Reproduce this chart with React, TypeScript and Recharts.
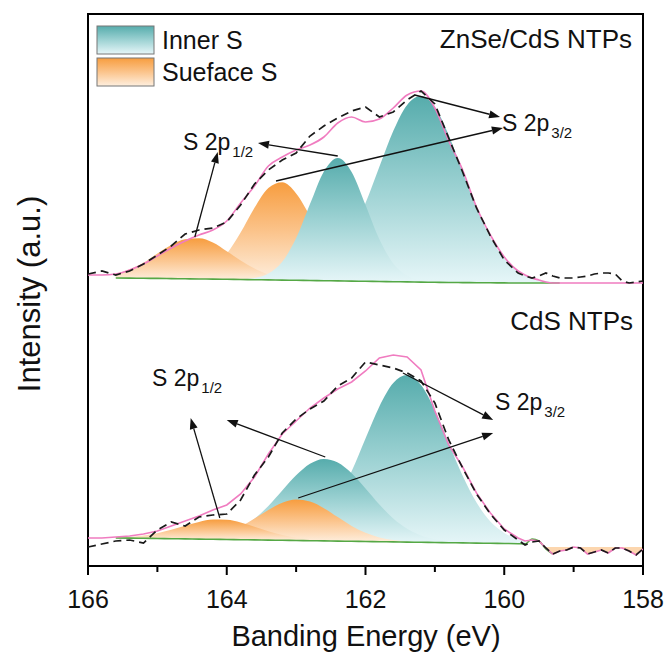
import React from 'react';
import { ComposedChart, Area, Line, XAxis, YAxis, ReferenceLine, ReferenceArea } from 'recharts';

// binding energy grid (eV), finer at the noisy low-energy end
const energy = [166.0, 165.8, 165.6, 165.4, 165.2, 165.0, 164.8, 164.6, 164.4, 164.2, 164.0, 163.8, 163.6, 163.4, 163.2, 163.0, 162.8, 162.6, 162.4, 162.2, 162.0, 161.8, 161.6, 161.4, 161.2, 161.0, 160.8, 160.6, 160.4, 160.2, 160.0, 159.8, 159.7, 159.6, 159.5, 159.4, 159.3, 159.2, 159.1, 159.0, 158.9, 158.8, 158.7, 158.6, 158.5, 158.4, 158.3, 158.2, 158.1, 158.0];

// ZnSe/CdS NTPs (upper trace, offset)
const topRaw = [292, 295, 291, 295, 302, 311, 320, 332, 336, 338, 344, 361, 382, 396, 406, 413, 430, 440, 448, 455, 459, 449, 454, 466, 475, 462, 428, 394, 358, 330, 306, 293, 290, 288, 290, 293, 290, 288, 288, 288, 289, 290, 292, 293, 293, 292, 285, 283, 284, 285];
const topFit = [291, 291, 292, 296, 302, 310, 318, 325, 331, 336, 345, 363, 380, 400, 409, 416, 421, 429, 443, 449, 444, 447, 458, 471, 475, 458, 425, 396, 359, 331, 309, 295, 291, 288, 286, 284, 283, 283, 283, 283, 283, 283, 283, 283, 283, 283, 283, 283, 283, 283];
const topBaseFrom = 165.6;
const topBase = [288.0, 287.9, 287.7, 287.6, 287.4, 287.2, 287.0, 286.9, 286.7, 286.5, 286.3, 286.1, 285.9, 285.7, 285.5, 285.3, 285.1, 284.9, 284.7, 284.5, 284.3, 284.1, 283.9, 283.7, 283.5, 283.4, 283.3, 283.2, 283.1, 283.0, 283.0, 283.0, 283.0, 283.0, 283.0, 283.0];
const topSurf12From = 165.6;
const topSurf12 = [4.3, 8.9, 15.5, 24.9, 33.6, 39.6, 40.7, 36.5, 28.0, 19.1, 11.2, 5.5, 2.7, 1.1, 0.4];
const topSurf32From = 164.8;
const topSurf32 = [0.4, 1.4, 4.4, 11.7, 25.6, 47.0, 71.9, 91.8, 97.8, 86.9, 64.5, 39.9, 20.6, 8.9, 3.2, 1.0, 0.3];
const topInner12From = 163.8;
const topInner12 = [0.4, 1.7, 6.3, 18.3, 42.2, 76.4, 109.2, 123, 109.2, 76.4, 42.2, 18.3, 6.3, 1.7, 0.4];
const topInner32From = 163.4;
const topInner32 = [0.2, 0.8, 2.2, 5.6, 12.7, 26.0, 47.7, 78.2, 114.7, 150.6, 176.9, 186, 175.0, 147.3, 110.9, 74.8, 45.1, 24.3, 11.8, 7.8, 5.1, 3.2, 2.0, 1.2, 0.7];

// CdS NTPs (lower trace)
const botRaw = [19, 22, 25, 26, 23, 36, 44, 40, 49, 51, 52, 66, 91, 109, 133, 147, 157, 165, 180, 188, 204, 201, 198, 193, 185, 163, 126, 98, 72, 52, 36, 26, 21, 24, 25, 18, 12, 15, 16, 19, 18, 12, 14, 16, 13, 18, 18, 15, 11, 17];
const botFit = [28, 28, 29, 30, 32, 35, 40, 45, 50, 56, 61, 72, 89, 112, 132, 145, 158, 168, 177, 184, 195, 208, 211, 209, 196, 155, 121, 99, 73, 53, 37, 28, 25, 26, 25, 18, 12, 15, 16, 19, 18, 12, 14, 16, 13, 18, 18, 15, 11, 17];
const botBaseFrom = 165.6;
const botBase = [28.0, 27.9, 27.7, 27.5, 27.3, 27.1, 26.9, 26.7, 26.5, 26.3, 26.1, 25.9, 25.7, 25.5, 25.3, 25.1, 24.9, 24.7, 24.5, 24.3, 24.1, 23.9, 23.7, 23.5, 23.3, 23.1, 22.9, 22.7, 22.5, 22.3, 22.1, 27, 25, 17, 12];
const botSurf12From = 165.6;
const botSurf12 = [0.5, 1.2, 2.7, 5.2, 8.9, 13.2, 17.2, 19.7, 19.7, 17.2, 13.2, 8.9, 5.2, 2.7, 1.2, 0.5];
const botSurf32From = 164.8;
const botSurf32 = [0.2, 0.5, 1.4, 3.4, 7.1, 13.1, 21.3, 30.2, 37.6, 41.0, 39.1, 32.7, 24.0, 15.4, 8.7, 4.3, 1.8, 0.7, 0.2];
const botInner12From = 164.6;
const botInner12 = [0.4, 1.1, 2.7, 6.0, 11.8, 21.2, 34.2, 49.8, 65.2, 77.0, 82, 78.6, 68.0, 53.0, 37.2, 23.5, 13.4, 6.9, 3.2, 1.3, 0.5];
const botInner32From = 163.4;
const botInner32 = [0.7, 2.0, 5.0, 11.4, 23.4, 42.8, 70.1, 103.0, 135.3, 158.8, 167, 157.2, 132.3, 99.5, 67.1, 40.5, 21.8, 10.6, 4.6, 2.9];
const botTailFrom = 159.4;
const botTailLevel = 19;

const majorTicks = [166, 164, 162, 160, 158];
const allTicks = [166, 165, 164, 163, 162, 161, 160, 159, 158];

// arrow annotations: [fromEnergy, fromY, toEnergy, toY]
const arrows = [
  [164.46, 329, 164.13, 414],
  [162.4, 410, 163.55, 423],
  [161.29, 471, 160.06, 449],
  [163.29, 385, 160.02, 438],
  [164.1, 48, 164.52, 148],
  [162.58, 109, 164.0, 146],
  [161.46, 193, 160.16, 146],
  [162.97, 68, 160.16, 133],
];

const idx = (e: number) => energy.findIndex(v => Math.abs(v - e) < 1e-6);
const at = (from: number, vals: number[], i: number) => {
  const k = i - idx(from);
  return k >= 0 && k < vals.length ? vals[k] : null;
};
const range = (base: number | null, peak: number | null) =>
  base == null || peak == null ? null : [base, +(base + peak).toFixed(2)];

const data = energy.map((e, i) => {
  const tb = at(topBaseFrom, topBase, i);
  const bb = at(botBaseFrom, botBase, i);
  return {
    e,
    tRaw: topRaw[i],
    tFit: topFit[i],
    tBase: tb,
    tS12: range(tb, at(topSurf12From, topSurf12, i)),
    tS32: range(tb, at(topSurf32From, topSurf32, i)),
    tI12: range(tb, at(topInner12From, topInner12, i)),
    tI32: range(tb, at(topInner32From, topInner32, i)),
    bRaw: botRaw[i],
    bFit: botFit[i],
    bBase: bb,
    bS12: range(bb, at(botSurf12From, botSurf12, i)),
    bS32: range(bb, at(botSurf32From, botSurf32, i)),
    bI12: range(bb, at(botInner12From, botInner12, i)),
    bI32: range(bb, at(botInner32From, botInner32, i)),
    bTail: i >= idx(botTailFrom) ? [Math.min(botFit[i], botTailLevel), botTailLevel] : null,
  };
});

const FONT = '"Liberation Sans", Arial, sans-serif';

const EnergyTick = (p: any) => {
  const { x, y, payload } = p;
  const major = majorTicks.includes(payload.value);
  return (
    <g>
      <line x1={x} y1={y} x2={x} y2={y + (major ? 9 : 6)} stroke="#000" strokeWidth={2} />
      {major && (
        <text x={x} y={y + 42} textAnchor="middle" fontSize={25} fontFamily={FONT} fill="#111">
          {payload.value}
        </text>
      )}
    </g>
  );
};

const ArrowShape = (p: any) => {
  const { x1, y1, x2, y2 } = p;
  const a = Math.atan2(y2 - y1, x2 - x1);
  const L = 11;
  const W = 4;
  const bx = x2 - L * Math.cos(a);
  const by = y2 - L * Math.sin(a);
  const pts = `${x2},${y2} ${bx - W * Math.sin(a)},${by + W * Math.cos(a)} ${bx + W * Math.sin(a)},${by - W * Math.cos(a)}`;
  return (
    <g>
      <line x1={x1} y1={y1} x2={bx} y2={by} stroke="#111" strokeWidth={1.3} />
      <polygon points={pts} fill="#111" />
    </g>
  );
};

const areaProps = { type: 'monotone' as const, stroke: 'none', fillOpacity: 1, isAnimationActive: false, dot: false, activeDot: false };

const Peak = ({ x, y, sub }: { x: number; y: number; sub: string }) => (
  <text x={x} y={y} fontSize={23} fontFamily={FONT} fill="#111">
    S 2p
    <tspan fontSize={15} dy={7} dx={2}>{sub}</tspan>
  </text>
);

const Gradients = ({ prefix }: { prefix: string }) => (
  <defs>
    <linearGradient id={`${prefix}Teal`} x1="0" y1="0" x2="0" y2="1">
      <stop offset="0" stopColor="#56acac" />
      <stop offset="0.5" stopColor="#9dd2d3" />
      <stop offset="1" stopColor="#e6f6f8" />
    </linearGradient>
    <linearGradient id={`${prefix}Orange`} x1="0" y1="0" x2="0" y2="1">
      <stop offset="0" stopColor="#f79d3f" />
      <stop offset="0.5" stopColor="#fbc48c" />
      <stop offset="1" stopColor="#feefdf" />
    </linearGradient>
  </defs>
);

export default function App() {
  return (
    <div style={{ position: 'relative', width: 669, height: 664 }}>
      <style>{'body{margin:0}'}</style>
      <ComposedChart width={669} height={664} data={data} margin={{ top: 14, right: 26, bottom: 48, left: 88 }}>
        <Gradients prefix="fill" />
        <XAxis
          dataKey="e"
          type="number"
          domain={[158, 166]}
          reversed
          ticks={allTicks}
          interval={0}
          tick={<EnergyTick />}
          tickLine={false}
          tickSize={0}
          tickMargin={0}
          axisLine={false}
          height={50}
          allowDataOverflow
        />
        <YAxis type="number" domain={[0, 552]} hide allowDataOverflow />

        {/* upper panel: inner S over surface S */}
        <Area {...areaProps} dataKey="tS32" fill="url(#fillOrange)" />
        <Area {...areaProps} dataKey="tS12" fill="url(#fillOrange)" />
        <Area {...areaProps} dataKey="tI32" fill="url(#fillTeal)" />
        <Area {...areaProps} dataKey="tI12" fill="url(#fillTeal)" />
        {/* lower panel: surface S over inner S */}
        <Area {...areaProps} dataKey="bI32" fill="url(#fillTeal)" />
        <Area {...areaProps} dataKey="bI12" fill="url(#fillTeal)" />
        <Area {...areaProps} dataKey="bS32" fill="url(#fillOrange)" />
        <Area {...areaProps} dataKey="bS12" fill="url(#fillOrange)" />
        <Area type="linear" dataKey="bTail" stroke="none" fill="#fcd6ae" fillOpacity={1} isAnimationActive={false} dot={false} activeDot={false} />

        <Line type="monotone" dataKey="tBase" stroke="#55a845" strokeWidth={1.6} dot={false} activeDot={false} isAnimationActive={false} />
        <Line type="monotone" dataKey="bBase" stroke="#55a845" strokeWidth={1.6} dot={false} activeDot={false} isAnimationActive={false} />
        <Line type="monotone" dataKey="tFit" stroke="#f07cc0" strokeWidth={1.6} dot={false} activeDot={false} isAnimationActive={false} />
        <Line type="linear" dataKey="bFit" stroke="#f07cc0" strokeWidth={1.6} dot={false} activeDot={false} isAnimationActive={false} />
        <Line type="linear" dataKey="tRaw" stroke="#1a1a1a" strokeWidth={1.7} strokeDasharray="8 5" dot={false} activeDot={false} isAnimationActive={false} />
        <Line type="linear" dataKey="bRaw" stroke="#1a1a1a" strokeWidth={1.7} strokeDasharray="8 5" dot={false} activeDot={false} isAnimationActive={false} />

        {arrows.map((a, i) => (
          <ReferenceLine key={i} segment={[{ x: a[0], y: a[1] }, { x: a[2], y: a[3] }]} shape={ArrowShape} ifOverflow="visible" />
        ))}
        <ReferenceArea x1={166} x2={158} y1={0} y2={552} fill="none" fillOpacity={0} stroke="#000" strokeWidth={2} strokeOpacity={1} ifOverflow="visible" />
      </ComposedChart>

      <svg width={669} height={664} style={{ position: 'absolute', left: 0, top: 0, pointerEvents: 'none' }}>
        <Gradients prefix="lg" />
        <rect x={97} y={26} width={57} height={28} fill="url(#lgTeal)" stroke="#777" strokeWidth={1} />
        <rect x={97} y={58} width={57} height={28} fill="url(#lgOrange)" stroke="#777" strokeWidth={1} />
        <text x={162} y={49} fontSize={25} fontFamily={FONT} fill="#111">Inner S</text>
        <text x={162} y={81} fontSize={25} fontFamily={FONT} fill="#111">Sueface S</text>
        <text x={632} y={48} fontSize={26} fontFamily={FONT} fill="#111" textAnchor="end">ZnSe/CdS NTPs</text>
        <text x={633} y={330} fontSize={26} fontFamily={FONT} fill="#111" textAnchor="end">CdS NTPs</text>
        <Peak x={183} y={150} sub="1/2" />
        <Peak x={502} y={131} sub="3/2" />
        <Peak x={152} y={386} sub="1/2" />
        <Peak x={495} y={410} sub="3/2" />
        <text x={366} y={646} fontSize={29} fontFamily={FONT} fill="#111" textAnchor="middle">Banding Energy (eV)</text>
        <text x={40} y={294} fontSize={31} fontFamily={FONT} fill="#111" textAnchor="middle" transform="rotate(-90 40 294)">Intensity (a.u.)</text>
      </svg>
    </div>
  );
}
